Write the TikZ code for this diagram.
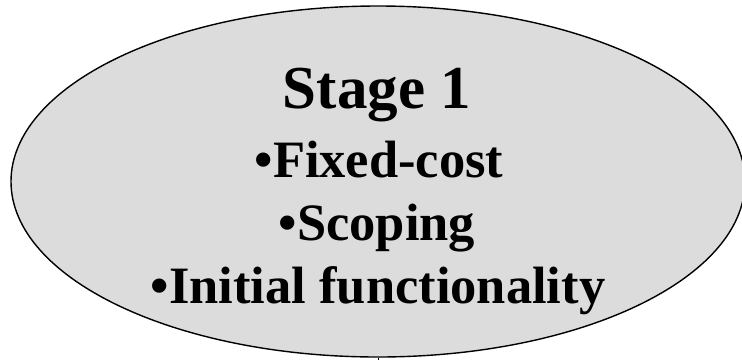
\documentclass[tikz,border=0pt]{standalone}
\usepackage{fontspec}
\setmainfont{Liberation Serif}
\usetikzlibrary{shapes.geometric}
\definecolor{stagefill}{RGB}{220,220,220}
\tikzset{
  stagebox/.style={ellipse, draw=black, fill=stagefill, line width=1.4pt,
    inner sep=0pt, minimum width=734pt, minimum height=351pt},
  headline/.style={anchor=base, inner sep=0pt, font=\fontsize{61}{61}\selectfont\bfseries},
  itemline/.style={anchor=base, inner sep=0pt, font=\fontsize{52.5}{52.5}\selectfont\bfseries},
}
\begin{document}
\begin{tikzpicture}[x=1pt, y=-1pt]
  \useasboundingbox (0,0) rectangle (742,360);
  \node[stagebox] (stage) at (378,181.5) {};
  \coordinate (lead) at (378,360);
  \draw[line width=1pt] (stage.south) -- (lead);
  \node[headline] (title) at (377,108) {Stage 1};
  \node[itemline] (fixed) at (379,177) {•Fixed-cost};
  \node[itemline] (scope) at (377,240) {•Scoping};
  \node[itemline] (initial) at (378,303) {•Initial functionality};
\end{tikzpicture}
\end{document}
